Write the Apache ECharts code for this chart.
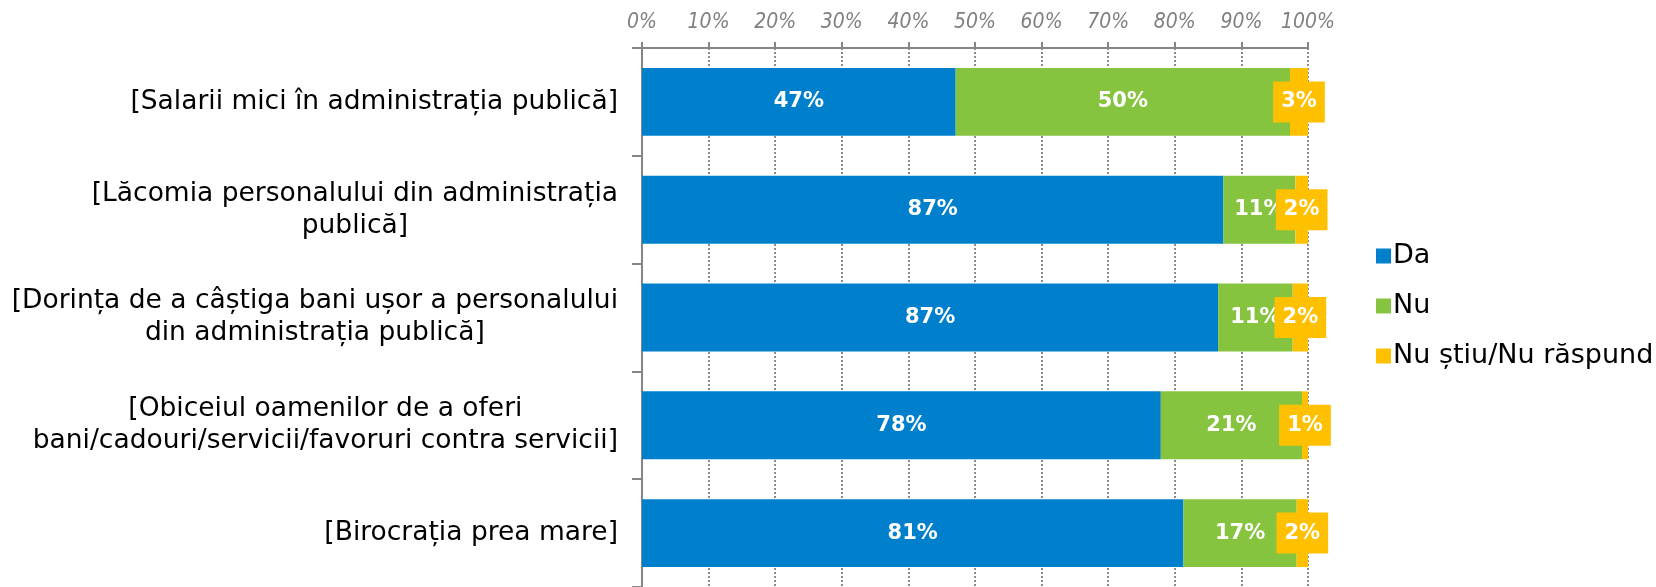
<!DOCTYPE html>
<html>
<head>
<meta charset="utf-8">
<script src="https://cdn.jsdelivr.net/npm/echarts@6/dist/echarts.min.js"></script>
<style>
    html, body { margin: 0; padding: 0; background: #fff; }
    #chart { width: 1656px; height: 587px; }
</style>
</head>
<body>
<div id="chart"></div>
<script>
    // categorii (de sus in jos)
    const categories = [
        '[Salarii mici în administrația publică]',
        '[Lăcomia personalului din administrația\npublică]',
        '[Dorința de a câștiga bani ușor a personalului\ndin administrația publică]',
        '[Obiceiul oamenilor de a oferi\nbani/cadouri/servicii/favoruri contra servicii]',
        '[Birocrația prea mare]'
    ]
    const seriesNames = ['Da', 'Nu', 'Nu știu/Nu răspund']
    const da = [47.1, 87.3, 86.5, 77.9, 81.3]
    const nu = [50.2, 10.8, 11.2, 21.2, 17.0]
    const ns = [2.7, 1.9, 2.3, 0.9, 1.7]
    const xTicks = [0, 10, 20, 30, 40, 50, 60, 70, 80, 90, 100]

    const colors = ['#0080CC', '#86C440', '#FFC000']
    const font = '"DejaVu Sans", sans-serif'

    const pct = p => Math.round(p.value) + '%'

    const myChart = echarts.init(document.getElementById('chart'))
    myChart.setOption({
        animation: false,
        color: colors,
        textStyle: { fontFamily: font },
        grid: { left: 642, right: 348, top: 48, bottom: 0, outerBoundsMode: 'none', containLabel: false },
        legend: {
            orient: 'vertical',
            left: 1371,
            top: 236,
            icon: 'rect',
            itemWidth: 15,
            itemHeight: 15,
            itemGap: 20,
            selectedMode: false,
            textStyle: { fontSize: 27, lineHeight: 30, color: '#000', fontFamily: font, padding: [0, 0, 0, -3] },
            data: seriesNames
        },
        xAxis: {
            type: 'value',
            position: 'top',
            min: xTicks[0],
            max: xTicks[xTicks.length - 1],
            interval: 10,
            axisLine: { show: true, lineStyle: { color: '#868686', width: 2 } },
            axisTick: { show: true, length: 6, lineStyle: { color: '#868686', width: 2 } },
            axisLabel: {
                margin: 15,
                formatter: '{value}%',
                color: '#808080',
                fontStyle: 'italic',
                fontSize: 21,
                fontFamily: '"Liberation Sans Narrow", "DejaVu Sans Condensed", sans-serif'
            },
            splitLine: { show: true, lineStyle: { color: '#8c8c8c', type: [2, 2], width: 2 } }
        },
        yAxis: {
            type: 'category',
            inverse: true,
            data: categories,
            axisLine: { show: true, lineStyle: { color: '#868686', width: 2 } },
            axisTick: { show: true, length: 10, lineStyle: { color: '#868686', width: 2 } },
            axisLabel: {
                margin: 24,
                color: '#000',
                fontSize: 26.5,
                lineHeight: 32,
                formatter: v => v.split('\n').map(s => '{c|' + s + '}').join('\n'),
                rich: { c: { align: 'center', fontSize: 26.5, lineHeight: 32, color: '#000', fontFamily: font } }
            }
        },
        series: [
            {
                name: seriesNames[0], type: 'bar', stack: 'all', barWidth: '63%', data: da,
                label: { show: true, position: 'inside', formatter: pct, color: '#fff', fontWeight: 'bold', fontSize: 21 }
            },
            {
                name: seriesNames[1], type: 'bar', stack: 'all', data: nu,
                label: { show: true, position: 'inside', formatter: pct, color: '#fff', fontWeight: 'bold', fontSize: 21 }
            },
            {
                name: seriesNames[2], type: 'bar', stack: 'all', data: ns,
                label: {
                    show: true, position: 'inside', formatter: pct, color: '#fff', fontWeight: 'bold', fontSize: 21,
                    backgroundColor: '#FFC000', padding: [10, 8]
                }
            }
        ]
    })
</script>
</body>
</html>
